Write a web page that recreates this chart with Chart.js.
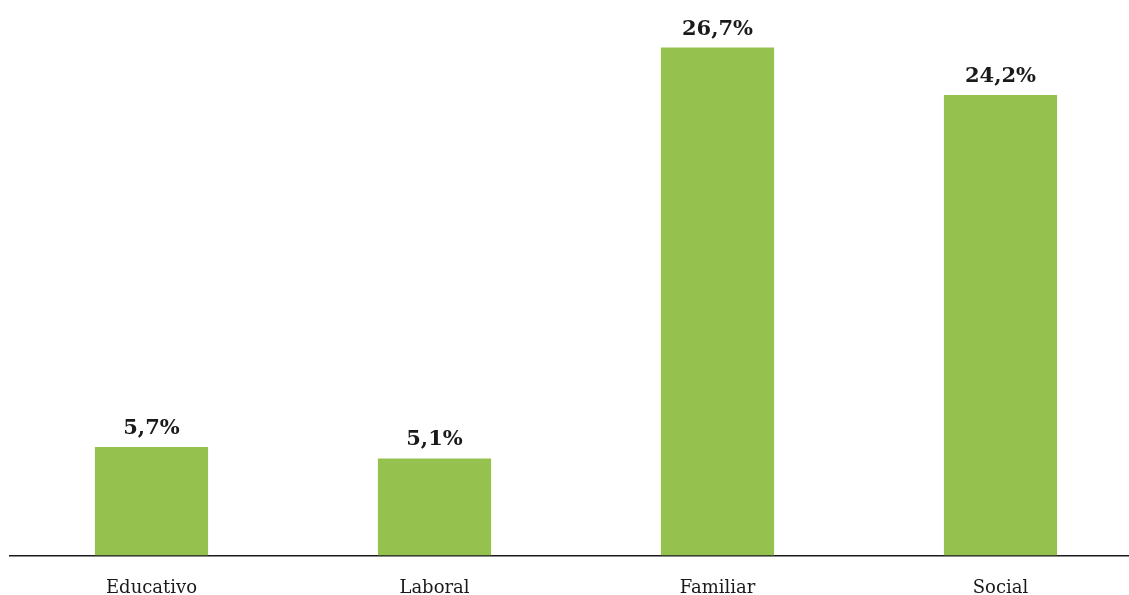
<!DOCTYPE html>
<html><head><meta charset="utf-8">
<script src="https://cdn.jsdelivr.net/npm/chart.js@4/dist/chart.umd.min.js"></script>
<style>html,body{margin:0;padding:0;background:#fff;overflow:hidden}#wrap{position:relative;width:1142px;height:621px}</style>
</head><body><div id="wrap"><canvas id="c"></canvas></div>
<script>
const categories = ["Educativo", "Laboral", "Familiar", "Social"];
const values = [5.7, 5.1, 26.7, 24.2];
const valueLabels = ["5,7%", "5,1%", "26,7%", "24,2%"];

const labelPlugin = {
  id: 'vlabels',
  afterDatasetsDraw(chart) {
    const ctx = chart.ctx;
    const meta = chart.getDatasetMeta(0);
    ctx.save();
    ctx.font = 'bold 21px "DejaVu Serif"';
    ctx.fillStyle = '#1a1a1a';
    ctx.textAlign = 'center';
    ctx.textBaseline = 'alphabetic';
    meta.data.forEach((bar, i) => {
      ctx.fillText(valueLabels[i], bar.x, bar.y - 13);
    });
    ctx.restore();
  }
};

new Chart(document.getElementById('c'), {
  type: 'bar',
  data: {
    labels: categories,
    datasets: [{ data: values, backgroundColor: '#95c14f', barPercentage: 0.4, categoryPercentage: 1 }]
  },
  options: {
    responsive: true, maintainAspectRatio: false, animation: false,
    layout: { padding: { left: 10, right: 0, top: 0, bottom: 0 } },
    plugins: { legend: { display: false }, tooltip: { enabled: false } },
    scales: {
      x: {
        grid: { display: false, drawTicks: false },
        border: { color: '#1a1a1a', width: 1.5 },
        ticks: { color: '#1a1a1a', font: { family: '"DejaVu Serif"', size: 18 }, padding: 22 }
      },
      y: { display: false, min: 0, max: 29.2 }
    }
  },
  plugins: [labelPlugin]
});
</script></body></html>
